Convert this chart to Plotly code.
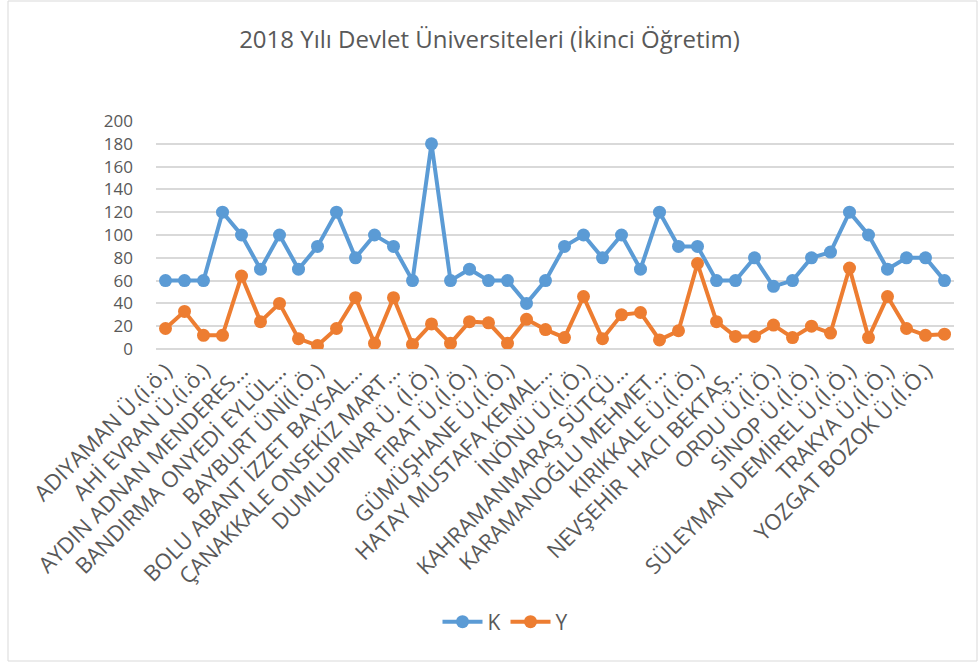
import plotly.graph_objects as go

# Category index (42 universities; Excel shows every other label)
n_categories = 42
tick_labels = [
    "ADIYAMAN Ü.(i.ö.)", "AHİ EVRAN Ü.(i.ö.)", "AYDIN ADNAN MENDERES…",
    "BANDIRMA ONYEDİ EYLÜL…", "BAYBURT ÜNİ(İ.Ö.)", "BOLU ABANT İZZET BAYSAL…",
    "ÇANAKKALE ONSEKİZ MART…", "DUMLUPINAR Ü. (İ.Ö.)", "FIRAT Ü.(İ.Ö.)",
    "GÜMÜŞHANE Ü.(İ.Ö.)", "HATAY MUSTAFA KEMAL…", "İNÖNÜ Ü.(İ.Ö.)",
    "KAHRAMANMARAŞ SÜTÇÜ…", "KARAMANOĞLU MEHMET…", "KIRIKKALE Ü.(İ.Ö.)",
    "NEVŞEHİR  HACI BEKTAŞ…", "ORDU Ü.(İ.Ö.)", "SİNOP Ü.(İ.Ö.)",
    "SÜLEYMAN DEMİREL Ü.(İ.Ö.)", "TRAKYA Ü.(İ.Ö.)", "YOZGAT BOZOK Ü.(İ.Ö.)",
]
tick_positions = list(range(0, n_categories, 2))

K = [60, 60, 60, 120, 100, 70, 100, 70, 90, 120, 80, 100, 90, 60, 180, 60, 70, 60, 60, 40, 60,
     90, 100, 80, 100, 70, 120, 90, 90, 60, 60, 80, 55, 60, 80, 85, 120, 100, 70, 80, 80, 60]
Y = [18, 33, 12, 12, 64, 24, 40, 9, 3, 18, 45, 5, 45, 4, 22, 5, 24, 23, 5, 26, 17,
     10, 46, 9, 30, 32, 8, 16, 75, 24, 11, 11, 21, 10, 20, 14, 71, 10, 46, 18, 12, 13]

x = list(range(n_categories))

FONT = "Open Sans"
GREY = "#595959"

fig = go.Figure()
fig.add_trace(go.Scatter(x=x, y=K, name="K", mode="lines+markers",
                         line=dict(color="#5B9BD5", width=4),
                         marker=dict(color="#5B9BD5", size=13)))
fig.add_trace(go.Scatter(x=x, y=Y, name="Y", mode="lines+markers",
                         line=dict(color="#ED7D31", width=4),
                         marker=dict(color="#ED7D31", size=13)))

plot_left, plot_right, plot_top, plot_bottom = 156, 954, 121, 349
W, H = 979, 662
pw = plot_right - plot_left
ph = plot_bottom - plot_top

def px(xp):
    return (xp - plot_left) / pw

def py(yp):
    return (plot_bottom - yp) / ph

fig.update_layout(
    width=W, height=H,
    margin=dict(l=plot_left, r=W - plot_right, t=plot_top, b=H - plot_bottom),
    paper_bgcolor="white", plot_bgcolor="white",
    font=dict(family=FONT, color=GREY, size=21),
    title=dict(text="2018 Yılı Devlet Üniversiteleri (İkinci Öğretim)",
               x=0.5, xanchor="center", y=1 - 40 / H, yanchor="middle",
               font=dict(size=24, color=GREY, family=FONT)),
    showlegend=True,
    legend=dict(orientation="h", x=px(505), xanchor="center", y=py(622), yanchor="middle",
                font=dict(size=21, color=GREY), itemwidth=40),
    xaxis=dict(range=[-0.5, n_categories - 0.5], tickmode="array",
               tickvals=tick_positions, ticktext=tick_labels, tickangle=-45,
               showgrid=False, zeroline=False, showline=False, ticks="",
               tickfont=dict(size=22, color=GREY), ticklabelstandoff=4, automargin=False),
    yaxis=dict(range=[0, 200], dtick=20, tick0=0, showgrid=True, gridcolor="#D9D9D9",
               gridwidth=1.5, zeroline=True, zerolinecolor="#D9D9D9", zerolinewidth=1.5,
               showline=False, ticks="", tickfont=dict(size=17, color=GREY),
               ticklabelstandoff=22, automargin=False),
    shapes=[dict(type="rect", xref="paper", yref="paper",
                 x0=px(8), x1=px(977), y0=py(661), y1=py(1),
                 line=dict(color="#D9D9D9", width=1), fillcolor="rgba(0,0,0,0)", layer="below")],
)

fig.write_html("out.html", config={"displayModeBar": False},
               post_script="document.body.style.margin='0';document.body.style.overflow='hidden';")
